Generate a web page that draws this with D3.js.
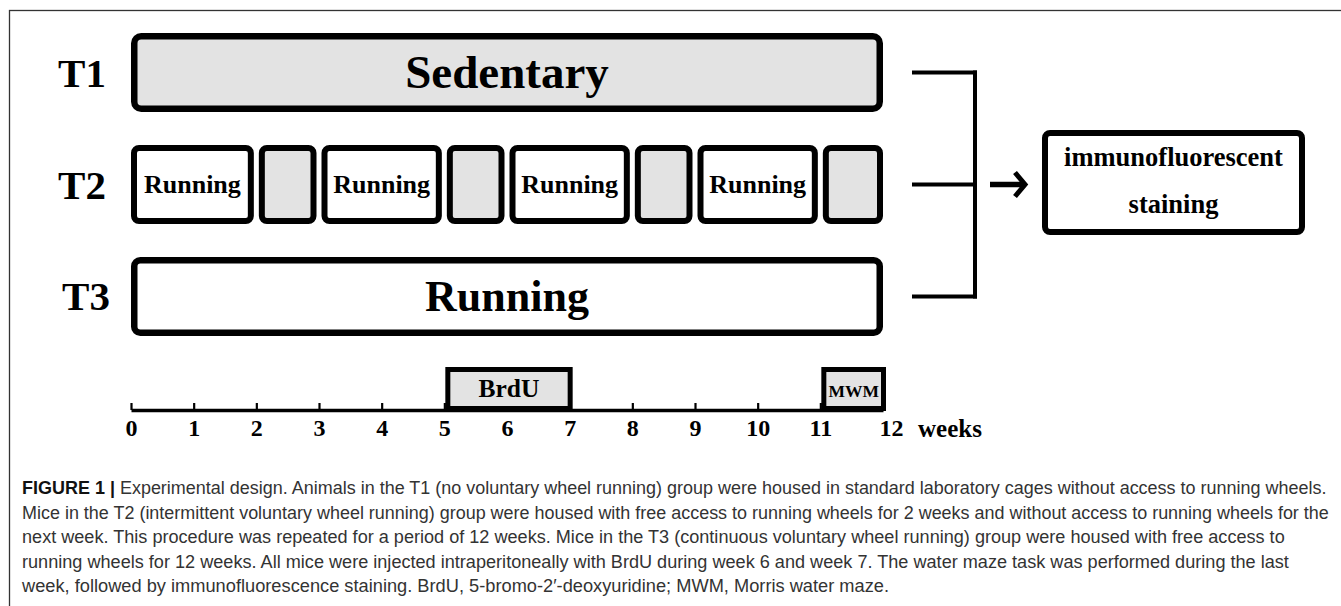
<!DOCTYPE html>
<html>
<head>
<meta charset="utf-8">
<script src="https://cdn.jsdelivr.net/npm/d3@7"></script>
<style>
  body { margin: 0; background: #fff; }
  svg { display: block; }
</style>
</head>
<body>
<svg id="chart"></svg>
<script>
// groups and their blocks: [startWeek, endWeek, label]
const groupLabels = ["T1", "T2", "T3"];
const t1Segments = [[0, 12, "Sedentary"]];
const t2Segments = [[0, 2, "Running"], [2, 3, ""], [3, 5, "Running"], [5, 6, ""],
                    [6, 8, "Running"], [8, 9, ""], [9, 11, "Running"], [11, 12, ""]];
const t3Segments = [[0, 12, "Running"]];
const eventSegments = [[5, 7, "BrdU"], [11, 12, "MWM"]];
const weekTicks = [0, 1, 2, 3, 4, 5, 6, 7, 8, 9, 10, 11, 12];
const axisUnit = "weeks";
const outcomeLines = ["immunofluorescent", "staining"];
const captionLead = "FIGURE 1 |";
const captionLines = [
  " Experimental design. Animals in the T1 (no voluntary wheel running) group were housed in standard laboratory cages without access to running wheels.",
  "Mice in the T2 (intermittent voluntary wheel running) group were housed with free access to running wheels for 2 weeks and without access to running wheels for the",
  "next week. This procedure was repeated for a period of 12 weeks. Mice in the T3 (continuous voluntary wheel running) group were housed with free access to",
  "running wheels for 12 weeks. All mice were injected intraperitoneally with BrdU during week 6 and week 7. The water maze task was performed during the last",
  "week, followed by immunofluorescence staining. BrdU, 5-bromo-2\u2032-deoxyuridine; MWM, Morris water maze."
];
const captionWidths = [1305, 1308, 1263, 1268, 868];

const W = 1341, H = 606;
const serif = '"Liberation Serif", "Times New Roman", serif';
const sans = '"Liberation Sans Narrow", "Arial Narrow", "Liberation Sans", Arial, sans-serif';
const shade = "#e3e3e3";

const svg = d3.select("#chart").attr("width", W).attr("height", H);

// frame (only top and left edge fall inside the picture)
svg.append("rect")
  .attr("x", 9.5).attr("y", 10.5)
  .attr("width", W + 50).attr("height", H + 50)
  .attr("fill", "none").attr("stroke", "#333").attr("stroke-width", 1.3);

const xScale = d3.scaleLinear().domain([0, 12]).range([131, 883]);
const yScale = d3.scaleBand().domain(groupLabels).range([33, 336]).paddingInner(0.2946);
const bw = yScale.bandwidth();

// group labels
svg.append("g").selectAll("text")
  .data(groupLabels)
  .join("text")
    .attr("x", d => d === "T3" ? 86 : 82)
    .attr("y", d => yScale(d) + bw / 2 + 14)
    .attr("text-anchor", "middle")
    .style("font-family", serif).style("font-weight", "bold").style("font-size", "41px")
    .text(d => d);

function drawRow(group, segs, sw, rx, fontSize, gap) {
  const row = svg.append("g").attr("class", "row-" + group);
  const y0 = yScale(group);
  const left = d => xScale(d[0]) + (d[0] > 0 ? gap : 0);
  const right = d => xScale(d[1]) - (d[1] < 12 ? gap : 0);

  row.selectAll("rect")
    .data(segs)
    .join("rect")
      .attr("x", d => left(d) + sw / 2)
      .attr("y", y0 + sw / 2)
      .attr("width", d => right(d) - left(d) - sw)
      .attr("height", bw - sw)
      .attr("rx", rx)
      .attr("fill", d => d[2] === "Running" ? "#fff" : shade)
      .attr("stroke", "#000")
      .attr("stroke-width", sw);

  row.selectAll("text")
    .data(segs.filter(d => d[2] !== ""))
    .join("text")
      .attr("x", d => (left(d) + right(d)) / 2)
      .attr("y", y0 + bw / 2 + fontSize * 0.34)
      .attr("text-anchor", "middle")
      .style("font-family", serif).style("font-weight", "bold")
      .style("font-size", fontSize + "px")
      .text(d => d[2]);
}

drawRow("T1", t1Segments, 6.5, 7, 47, 0);
drawRow("T2", t2Segments, 6, 5, 26, 2.5);
drawRow("T3", t3Segments, 6.5, 6, 44, 0);

// bracket joining the three groups
const mid = g => yScale(g) + bw / 2;
const bx0 = 912, bx1 = 977;
const bracket = svg.append("g")
  .attr("fill", "none").attr("stroke", "#000").attr("stroke-width", 4);
bracket.selectAll("line.arm")
  .data(groupLabels)
  .join("line")
    .attr("class", "arm")
    .attr("x1", bx0).attr("x2", bx1)
    .attr("y1", d => mid(d)).attr("y2", d => mid(d));
bracket.append("line")
  .attr("x1", bx1 - 2).attr("x2", bx1 - 2)
  .attr("y1", mid("T1") - 2).attr("y2", mid("T3") + 2);

// arrow
const ay = mid("T2");
svg.append("line")
  .attr("x1", 990).attr("x2", 1022).attr("y1", ay).attr("y2", ay)
  .attr("stroke", "#000").attr("stroke-width", 5.5);
svg.append("path")
  .attr("d", `M1015,${ay - 12}L1025,${ay}L1015,${ay + 12}`)
  .attr("fill", "none").attr("stroke", "#000").attr("stroke-width", 5);

// outcome box
svg.append("rect")
  .attr("x", 1045).attr("y", 133).attr("width", 257).attr("height", 99)
  .attr("rx", 5).attr("fill", "#fff").attr("stroke", "#000").attr("stroke-width", 6);
svg.append("g").selectAll("text")
  .data(outcomeLines)
  .join("text")
    .attr("x", 1173.5)
    .attr("y", (d, i) => 166 + i * 47)
    .attr("text-anchor", "middle")
    .style("font-family", serif).style("font-weight", "bold").style("font-size", "26.5px")
    .text(d => d);

// week axis
const axisY = 410;
const axis = svg.append("g")
  .attr("transform", `translate(0,${axisY})`)
  .call(d3.axisBottom(xScale).tickValues(weekTicks).tickSizeInner(-7).tickSizeOuter(0).tickPadding(9));
axis.select(".domain").attr("stroke", "#000").attr("stroke-width", 3.5);
axis.selectAll(".tick line").attr("stroke", "#000").attr("stroke-width", 2.2);
axis.selectAll(".tick text")
  .attr("fill", "#000")
  .attr("dx", d => d === 12 ? 8 : 0)
  .style("font-family", serif).style("font-weight", "bold").style("font-size", "24px");
axis.append("text")
  .attr("x", 918).attr("y", 9).attr("dy", "0.71em")
  .attr("fill", "#000").attr("text-anchor", "start")
  .style("font-family", serif).style("font-weight", "bold").style("font-size", "25px")
  .text(axisUnit);

// BrdU / MWM boxes sitting on the axis
const ev = svg.append("g");
ev.selectAll("rect")
  .data(eventSegments)
  .join("rect")
    .attr("x", d => xScale(d[0]) + 1 + 2.5)
    .attr("y", 367 + 2.5)
    .attr("width", d => xScale(d[1]) - xScale(d[0]) + 2 - 5)
    .attr("height", axisY + 1 - 367 - 5)
    .attr("fill", shade).attr("stroke", "#000").attr("stroke-width", 5);
ev.selectAll("text")
  .data(eventSegments)
  .join("text")
    .attr("x", d => (xScale(d[0]) + xScale(d[1])) / 2 + 2)
    .attr("y", 397)
    .attr("text-anchor", "middle")
    .style("font-family", serif).style("font-weight", "bold")
    .style("font-size", d => d[2] === "MWM" ? "17.5px" : "25.5px")
    .text(d => d[2]);

// caption: each line squeezed horizontally to the justified width
const cap = svg.append("g")
  .style("font-family", sans).style("font-size", "18.5px").attr("fill", "#333");
captionLines.forEach((line, i) => {
  const t = cap.append("text").attr("x", 0).attr("y", 0);
  if (i === 0) {
    t.append("tspan").style("font-weight", "bold").attr("fill", "#111").text(captionLead);
  }
  t.append("tspan").text(line);
  const natural = t.node().getComputedTextLength();
  const sx = captionWidths[i] / natural;
  t.attr("transform", `translate(22,${494 + i * 24.5}) scale(${sx},1)`);
});
</script>
</body>
</html>
